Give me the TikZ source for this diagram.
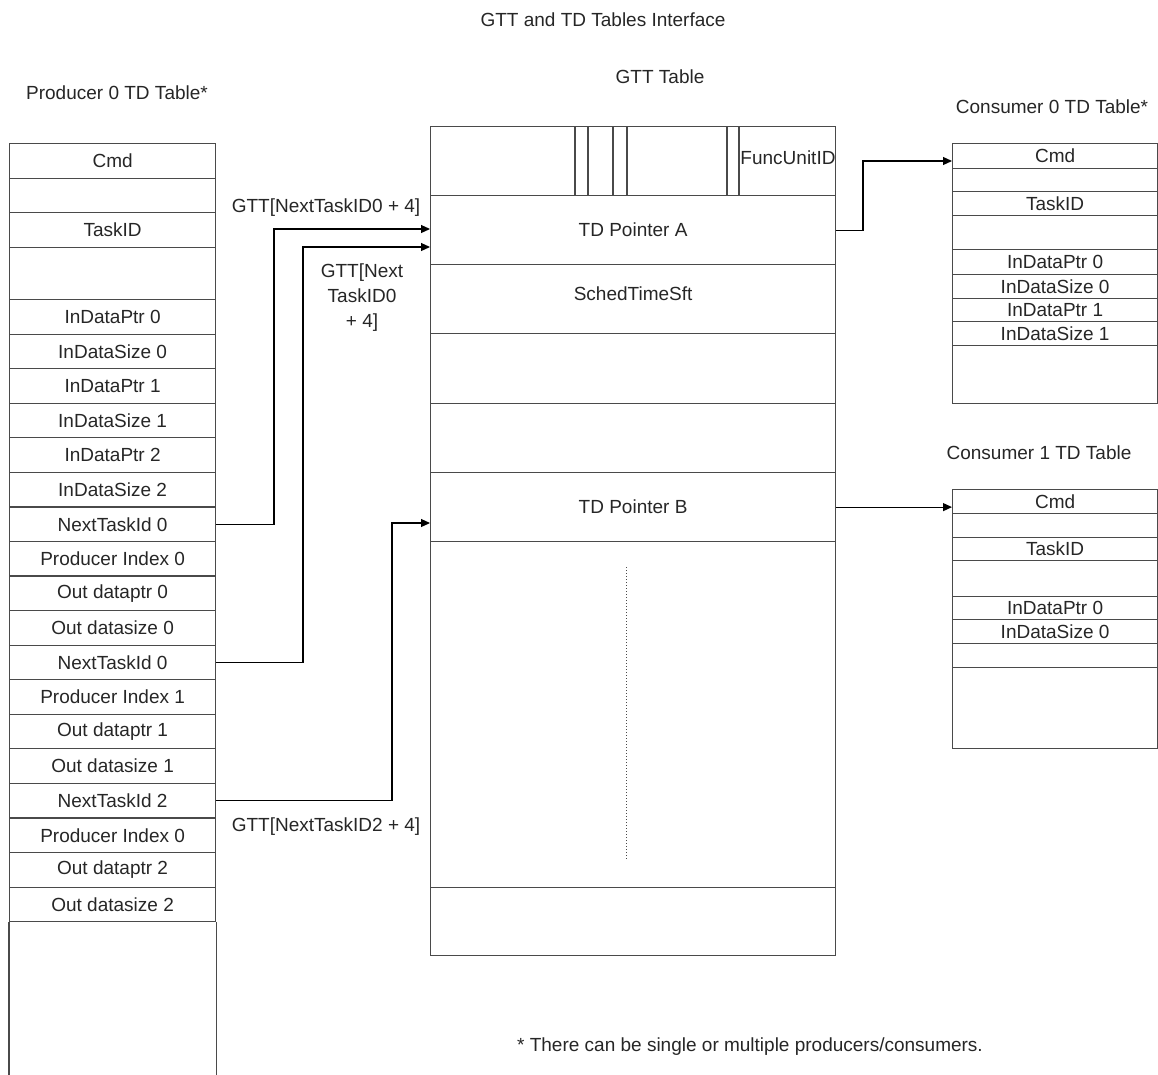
\documentclass[tikz,border=0pt]{standalone}
\usepackage{fontspec}
\setmainfont{Liberation Sans}
\usetikzlibrary{arrows.meta,calc}
\definecolor{lc}{HTML}{4A4A4A}
\definecolor{tc}{HTML}{262626}
\newcommand{\tdf}{\fontsize{19}{21}\selectfont}
\tikzset{
  basepx/.style={x=1pt,y=-1pt},
  tdrow/.style={draw=lc, line width=1.2pt, inner sep=0pt, anchor=north west, font=\tdf, text=tc},
  prodrow/.style={tdrow, minimum width=206pt},
  gttrow/.style={tdrow, minimum width=405pt},
  consrow/.style={tdrow, minimum width=205pt},
  lbl/.style={font=\tdf, text=tc, inner sep=1pt},
  arr/.style={draw=black, line width=1.2pt, -{Triangle[length=9pt,width=8pt]}},
  conn/.style={draw=black, line width=1.2pt},
}
\begin{document}
\begin{tikzpicture}[basepx]
\useasboundingbox (0,0) rectangle (1158,1074);
% titles
\node[lbl] (title) at (603,20) {GTT and TD Tables Interface};
\node[lbl] (gtttitle) at (660,77) {GTT Table};
\node[lbl] (prodtitle) at (117,93) {Producer 0 TD Table*};
\node[lbl] (c0title) at (1052,107) {Consumer 0 TD Table*};
\node[lbl] (c1title) at (1039,453) {Consumer 1 TD Table};
\node[lbl] (foot) at (750,1047) {* There can be single or multiple producers/consumers.};

% Producer table
\node[prodrow, minimum height=34.5pt] (L1) at (9,143) {Cmd};
\node[prodrow, minimum height=34.5pt] (L2) at (9,177.5) {};
\node[prodrow, minimum height=35pt] (L3) at (9,212) {TaskID};
\node[prodrow, minimum height=52pt] (L4) at (9,247) {};
\foreach \i/\t in {0/InDataPtr 0,1/InDataSize 0,2/InDataPtr 1,3/InDataSize 1,4/InDataPtr 2,5/InDataSize 2,6/NextTaskId 0,7/Producer Index 0,8/Out dataptr 0,9/Out datasize 0,10/NextTaskId 0,11/Producer Index 1,12/Out dataptr 1,13/Out datasize 1,14/NextTaskId 2,15/Producer Index 0,16/Out dataptr 2,17/Out datasize 2}{
  \node[prodrow, minimum height=34.56pt] (P\i) at (9,{299+34.56*\i}) {\t};
}
\draw[draw=lc, line width=1.2pt] (P17.south west) -- ++(0,153);
\draw[draw=lc, line width=1.2pt] (P17.south east) -- ++(0,153);

% GTT table
\node[gttrow, minimum height=69pt] (gTop) at (430,126) {};
\node[gttrow, minimum height=69pt] (gA) at (430,195) {TD Pointer A};
\node[gttrow, minimum height=69pt, text depth=10pt] (gS) at (430,264) {SchedTimeSft};
\node[gttrow, minimum height=70pt] (g4) at (430,333) {};
\node[gttrow, minimum height=69pt] (g5) at (430,403) {};
\node[gttrow, minimum height=69pt] (gB) at (430,472) {TD Pointer B};
\node[gttrow, minimum height=346pt] (g7) at (430,541) {};
\node[gttrow, minimum height=68pt] (g8) at (430,887) {};
\foreach \dx in {145,158,183,197,297,309}{
  \draw[draw=lc, line width=1.2pt] ([xshift=\dx pt]gTop.north west) -- ([xshift=\dx pt]gTop.south west);
}
\node[lbl, inner sep=0pt] (fu) at (788,158) {FuncUnitID};
\draw[draw=lc, line width=1pt, dotted] ([xshift=196pt,yshift=-26pt]g7.north west) coordinate (dtop) -- ([xshift=196pt,yshift=30pt]g7.south west) coordinate (dbot);

% Consumer 0 table
\node[consrow, minimum height=25pt] (C0a) at (952,143) {Cmd};
\node[consrow, minimum height=23pt] (C0b) at (952,168) {};
\node[consrow, minimum height=24pt] (C0c) at (952,191) {TaskID};
\node[consrow, minimum height=34pt] (C0d) at (952,215) {};
\node[consrow, minimum height=25pt] (C0e) at (952,249) {InDataPtr 0};
\node[consrow, minimum height=24pt] (C0f) at (952,274) {InDataSize 0};
\node[consrow, minimum height=23pt] (C0g) at (952,298) {InDataPtr 1};
\node[consrow, minimum height=24pt] (C0h) at (952,321) {InDataSize 1};
\node[consrow, minimum height=58pt] (C0i) at (952,345) {};

% Consumer 1 table
\node[consrow, minimum height=24pt] (C1a) at (952,489) {Cmd};
\node[consrow, minimum height=24pt] (C1b) at (952,513) {};
\node[consrow, minimum height=23pt] (C1c) at (952,537) {TaskID};
\node[consrow, minimum height=36pt] (C1d) at (952,560) {};
\node[consrow, minimum height=23pt] (C1e) at (952,596) {InDataPtr 0};
\node[consrow, minimum height=24pt] (C1f) at (952,619) {InDataSize 0};
\node[consrow, minimum height=24pt] (C1g) at (952,643) {};
\node[consrow, minimum height=81pt] (C1h) at (952,667) {};

% connectors producer -> GTT
\coordinate (b1) at (274,229);
\coordinate (b2) at (303,247);
\coordinate (b3) at (392,523);
\draw[arr] (P6.east) -| (b1) -- (b1 -| gA.west);
\draw[arr] (P10.east) -| (b2) -- (b2 -| gA.west);
\draw[arr] (P14.east) -| (b3) -- (b3 -| gB.west);
\node[lbl] (l1) at (326,208) {GTT[NextTaskID0 + 4]};
\node[lbl, align=center] (l2) at (362,298) {GTT[Next\\[4pt]TaskID0\\[4pt]+ 4]};
\node[lbl] (l3) at (326,827) {GTT[NextTaskID2 + 4]};

% GTT -> consumers
\coordinate (b4) at (863,161);
\draw[arr] (gA.east) -| (b4) -- (b4 -| C0a.west);
\draw[arr] (gB.east) -- (gB.east -| C1a.west);
\end{tikzpicture}
\end{document}
